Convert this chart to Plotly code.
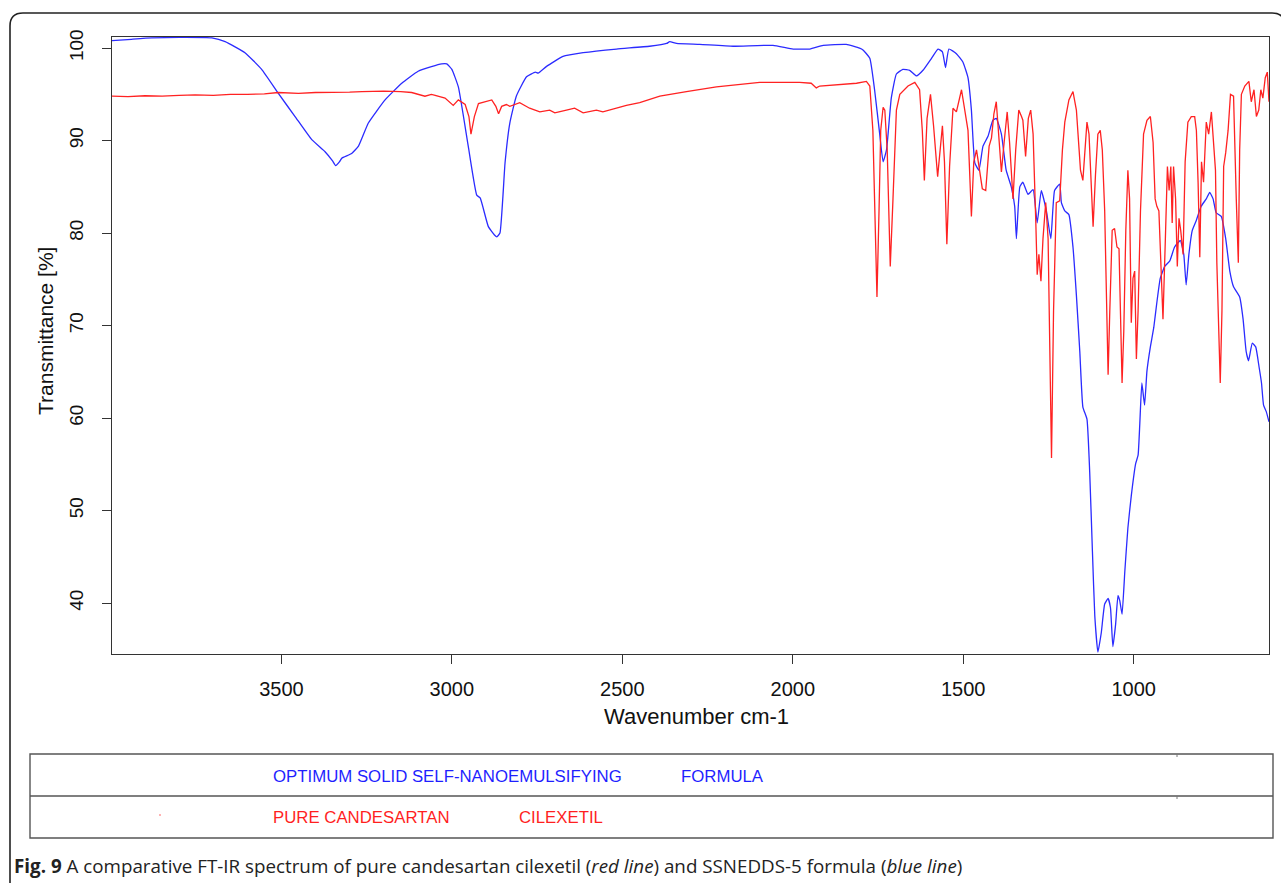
import plotly.graph_objects as go

# --- FT-IR spectra: wavenumber (cm-1) and transmittance (%) ---
blue_wn = [3997, 3940, 3880, 3800, 3704, 3665, 3607, 3558, 3509, 3460, 3411, 3372, 3350, 3341,
           3330, 3323, 3294, 3274, 3245, 3196, 3147, 3099, 3060, 3030, 3015, 3000, 2981, 2952,
           2927, 2917, 2893, 2875, 2868, 2859, 2844, 2830, 2811, 2781, 2755, 2747, 2723, 2674,
           2615, 2517, 2420, 2370, 2361, 2341, 2273, 2175, 2058, 1999, 1950, 1911, 1843, 1804,
           1794, 1774, 1760, 1745, 1735, 1725, 1711, 1696, 1677, 1657, 1637, 1618, 1593, 1574,
           1561, 1552, 1542, 1520, 1501, 1486, 1476, 1466, 1454, 1442, 1427, 1413, 1403, 1388,
           1374, 1359, 1349, 1344, 1334, 1325, 1310, 1295, 1283, 1271, 1256, 1243, 1232, 1217,
           1212, 1202, 1190, 1178, 1168, 1158, 1149, 1137, 1129, 1121, 1114, 1105, 1095, 1085,
           1075, 1068, 1061, 1053, 1046, 1041, 1034, 1026, 1017, 1007, 994, 987, 982, 976, 968,
           961, 951, 941, 932, 922, 909, 894, 880, 863, 853, 846, 838, 828, 816, 802, 787, 777,
           767, 758, 743, 730, 718, 707, 689, 679, 670, 663, 652, 642, 632, 625, 619, 611, 603]
blue_t = [100.8, 100.95, 101.1, 101.15, 101.1, 100.7, 99.5, 97.7, 95.1, 92.6, 90.1, 88.8, 87.8, 87.3,
          87.7, 88.1, 88.6, 89.4, 91.9, 94.4, 96.2, 97.5, 98.0, 98.3, 98.3, 97.7, 95.8, 89.4,
          84.1, 83.8, 80.7, 79.8, 79.6, 80.0, 87.6, 91.9, 94.8, 96.9, 97.4, 97.3, 98.0, 99.1,
          99.5, 99.9, 100.2, 100.5, 100.7, 100.5, 100.4, 100.2, 100.3, 99.9, 99.9, 100.3, 100.4, 100.0,
          99.8, 98.9, 95.5, 90.7, 87.7, 89.0, 94.6, 97.2, 97.7, 97.6, 97.0, 97.6, 98.9, 99.9,
          99.6, 97.9, 99.9, 99.4, 98.5, 96.8, 93.3, 87.6, 86.8, 89.4, 90.5, 92.2, 92.4, 90.7,
          86.8, 85.0, 82.9, 79.4, 85.0, 85.5, 84.2, 84.7, 81.1, 84.6, 82.4, 79.4, 84.6, 85.3,
          83.3, 82.4, 82.0, 78.5, 73.3, 67.2, 61.2, 59.9, 54.2, 45.6, 38.6, 34.7, 36.8, 39.9,
          40.5, 39.5, 35.3, 37.7, 40.8, 40.3, 38.8, 43.4, 48.1, 51.6, 55.1, 56.0, 59.4, 63.8, 61.4,
          65.1, 67.7, 69.8, 72.5, 75.1, 76.4, 77.0, 78.5, 79.2, 77.7, 74.4, 77.7, 80.3, 81.4, 82.9, 83.7, 84.4,
          83.7, 82.2, 81.8, 79.4, 75.9, 74.2, 73.1, 70.7, 67.2, 66.2, 68.1, 67.7, 65.5, 63.8, 61.4, 60.7, 59.6]

red_wn = [3997, 3950, 3900, 3850, 3800, 3753, 3700, 3650, 3600, 3550, 3509, 3450, 3400, 3350,
          3300, 3264, 3200, 3150, 3118, 3079, 3060, 3049, 3020, 2996, 2981, 2961, 2950, 2944,
          2934, 2922, 2903, 2883, 2871, 2863, 2854, 2840, 2830, 2801, 2772, 2742, 2713, 2698,
          2664, 2640, 2615, 2576, 2557, 2517, 2488, 2449, 2390, 2312, 2224, 2097, 1980, 1946,
          1931, 1921, 1882, 1833, 1813, 1784, 1774, 1765, 1757, 1753, 1747, 1742, 1735, 1730,
          1723, 1714, 1706, 1696, 1686, 1662, 1642, 1628, 1620, 1614, 1606, 1596, 1587, 1575,
          1561, 1555, 1548, 1540, 1530, 1520, 1505, 1496, 1486, 1476, 1469, 1461, 1454, 1444,
          1434, 1424, 1417, 1410, 1403, 1396, 1388, 1380, 1371, 1364, 1354, 1346, 1337, 1329,
          1325, 1317, 1309, 1302, 1295, 1287, 1283, 1278, 1272, 1266, 1258, 1251, 1246, 1241,
          1235, 1227, 1217, 1209, 1202, 1190, 1178, 1168, 1160, 1156, 1149, 1143, 1137, 1131,
          1124, 1119, 1112, 1105, 1098, 1092, 1085, 1080, 1075, 1070, 1063, 1056, 1049, 1043,
          1038, 1034, 1029, 1023, 1017, 1012, 1007, 1002, 997, 992, 987, 980, 971, 961, 951,
          943, 937, 932, 926, 919, 914, 907, 901, 896, 891, 887, 883, 877, 872, 867, 862, 855,
          849, 841, 831, 821, 816, 811, 806, 801, 795, 787, 780, 772, 765, 760, 756, 750, 746,
          741, 736, 730, 723, 716, 707, 699, 693, 689, 684, 674, 662, 655, 647, 640, 633, 627,
          621, 614, 608, 603]
red_t = [94.8, 94.75, 94.85, 94.8, 94.9, 94.95, 94.9, 95.0, 95.0, 95.05, 95.2, 95.1, 95.2, 95.2,
         95.25, 95.3, 95.35, 95.3, 95.2, 94.8, 95.0, 94.9, 94.6, 93.8, 94.4, 93.9, 92.6, 90.7,
         92.6, 94.0, 94.2, 94.4, 93.7, 92.9, 93.7, 93.9, 93.7, 94.1, 93.5, 93.1, 93.3, 93.0,
         93.3, 93.5, 93.0, 93.3, 93.1, 93.5, 93.8, 94.1, 94.8, 95.3, 95.8, 96.3, 96.3, 96.2,
         95.7, 95.9, 96.0, 96.2, 96.2, 96.4, 95.9, 91.1, 80.3, 73.1, 82.4, 91.1, 93.6, 93.3,
         89.0, 76.4, 83.7, 93.3, 95.0, 95.9, 96.3, 95.5, 91.1, 85.7, 92.4, 95.0, 91.6, 86.1,
         91.6, 87.7, 78.8, 87.2, 93.5, 93.1, 95.5, 93.3, 91.1, 81.8, 87.7, 89.0, 87.2, 84.8,
         84.6, 89.4, 90.3, 92.9, 94.2, 91.1, 86.6, 89.8, 93.1, 89.8, 83.7, 89.0, 93.3, 92.6,
         92.2, 88.3, 92.4, 93.3, 90.7, 81.1, 75.5, 77.7, 74.8, 79.4, 83.3, 79.4, 67.2, 55.7,
         71.6, 83.3, 83.5, 89.0, 92.0, 94.4, 95.3, 93.3, 89.0, 86.8, 85.7, 89.0, 92.0, 90.7,
         84.6, 80.7, 86.3, 90.7, 91.1, 89.0, 82.4, 73.8, 64.7, 71.6, 80.3, 80.5, 78.5, 78.3,
         71.6, 63.8, 69.4, 80.3, 86.8, 83.7, 70.3, 75.1, 75.9, 66.4, 71.6, 82.4, 90.7, 92.2, 92.6,
         89.8, 83.7, 82.9, 82.4, 75.1, 70.7, 79.4, 87.2, 84.6, 87.2, 81.1, 87.2, 83.7, 76.4, 81.6, 80.3, 77.7,
         87.7, 92.0, 92.6, 92.6, 91.1, 85.5, 77.4, 87.7, 85.5, 92.0, 90.7, 93.1, 89.8, 86.8, 76.8, 69.0, 63.8,
         71.6, 87.2, 88.7, 91.1, 95.0, 94.8, 83.7, 76.8, 89.0, 95.0, 95.9, 96.4, 94.2, 95.5, 92.6, 93.3, 95.5,
         94.6, 96.8, 97.4, 94.2]

x_ticks = [3500, 3000, 2500, 2000, 1500, 1000]
y_ticks = [40, 50, 60, 70, 80, 90, 100]

legend_rows = [
    ("OPTIMUM SOLID SELF-NANOEMULSIFYING", "FORMULA", "#1f1fff"),
    ("PURE CANDESARTAN", "CILEXETIL", "#ff1f1f"),
]
caption = ("<b>Fig. 9</b> A comparative FT-IR spectrum of pure candesartan cilexetil "
           "(<i>red line</i>) and SSNEDDS-5 formula (<i>blue line</i>)")

# --- page geometry (pixels) ---
W, H = 1281, 883
ML, MR, MT, MB = 112, 12, 37, 229
PW, PH = W - ML - MR, H - MT - MB


def px(x):
    return (x - ML) / PW


def py(y):
    return (H - MB - y) / PH


fig = go.Figure()
fig.add_trace(go.Scatter(x=blue_wn, y=blue_t, mode="lines",
                         line=dict(color="#2b2bff", width=1.3, shape="spline", smoothing=0.4),
                         hoverinfo="skip"))
fig.add_trace(go.Scatter(x=red_wn, y=red_t, mode="lines",
                         line=dict(color="#ff2222", width=1.3), hoverinfo="skip"))

axis_font = dict(family="Liberation Sans, Arial, sans-serif", color="#111")
fig.update_layout(
    width=W, height=H,
    margin=dict(l=ML, r=MR, t=MT, b=MB, pad=0),
    paper_bgcolor="white", plot_bgcolor="white",
    showlegend=False,
    xaxis=dict(range=[3997, 603], tickvals=x_ticks, ticks="outside", ticklen=9,
               tickcolor="#333", tickwidth=1.2, showline=True, linecolor="#333",
               linewidth=1.3, mirror=True, showgrid=False, zeroline=False,
               ticklabelstandoff=8,
               tickfont=dict(size=20, **axis_font)),
    yaxis=dict(range=[34.5, 101.2], tickvals=y_ticks, ticks="outside", ticklen=9,
               tickcolor="#333", tickwidth=1.2, showline=True, linecolor="#333",
               linewidth=1.3, mirror=True, showgrid=False, zeroline=False,
               ticklabelstandoff=11,
               tickangle=-90, tickfont=dict(size=19, **axis_font)),
)

ann = []
ann.append(dict(x=px(696), y=py(716), xref="paper", yref="paper", text="Wavenumber cm-1",
                showarrow=False, xanchor="center", yanchor="middle",
                font=dict(size=22, **axis_font)))
ann.append(dict(x=px(45), y=py(331), xref="paper", yref="paper", text="Transmittance [%]",
                showarrow=False, xanchor="center", yanchor="middle", textangle=-90,
                font=dict(size=21, **axis_font)))

# legend table text
row_y = [776, 818]
second_x = [679, 517]
for (left, right, col), yy, x2 in zip(legend_rows, row_y, second_x):
    ann.append(dict(x=px(271), y=py(yy), xref="paper", yref="paper", text=left,
                    showarrow=False, xanchor="left", yanchor="middle",
                    font=dict(size=16.8, family="Liberation Sans, Arial", color=col)))
    ann.append(dict(x=px(x2), y=py(yy), xref="paper", yref="paper",
                    text=right, showarrow=False, xanchor="left", yanchor="middle",
                    font=dict(size=16.8, family="Liberation Sans, Arial", color=col)))

ann.append(dict(x=px(12), y=py(866), xref="paper", yref="paper", text=caption,
                showarrow=False, xanchor="left", yanchor="middle",
                font=dict(size=18.8, family="Open Sans, Noto Sans, sans-serif", color="#222")))
fig.update_layout(annotations=ann)

# outer rounded frame
fx0, fy0, fx1, fy1, r = 10, 13, 1285, 905, 13
frame_path = (f"M {px(fx0)},{py(fy1)} L {px(fx0)},{py(fy0 + r)} "
              f"Q {px(fx0)},{py(fy0)} {px(fx0 + r)},{py(fy0)} "
              f"L {px(fx1 - r)},{py(fy0)} Q {px(fx1)},{py(fy0)} {px(fx1)},{py(fy0 + r)} "
              f"L {px(fx1)},{py(fy1)}")
shapes = [dict(type="path", path=frame_path, xref="paper", yref="paper",
               line=dict(color="#222", width=1.6))]

# legend table grid
tx0, tx1, ty0, tym, ty1 = 30, 1273, 754, 796, 838
shapes.append(dict(type="rect", xref="paper", yref="paper", x0=px(tx0), x1=px(tx1),
                   y0=py(ty0), y1=py(ty1), line=dict(color="#555", width=1.4)))
shapes.append(dict(type="line", xref="paper", yref="paper", x0=px(tx0), x1=px(tx1),
                   y0=py(tym), y1=py(tym), line=dict(color="#555", width=1.4)))
for yy in (ty0, tym):
    shapes.append(dict(type="line", xref="paper", yref="paper", x0=px(1177), x1=px(1177),
                       y0=py(yy), y1=py(yy + 3), line=dict(color="#777", width=1)))
shapes.append(dict(type="line", xref="paper", yref="paper", x0=px(159), x1=px(161),
                   y0=py(815), y1=py(815), line=dict(color="#ff6666", width=1)))
fig.update_layout(shapes=shapes)

fig.write_html("out.html")
